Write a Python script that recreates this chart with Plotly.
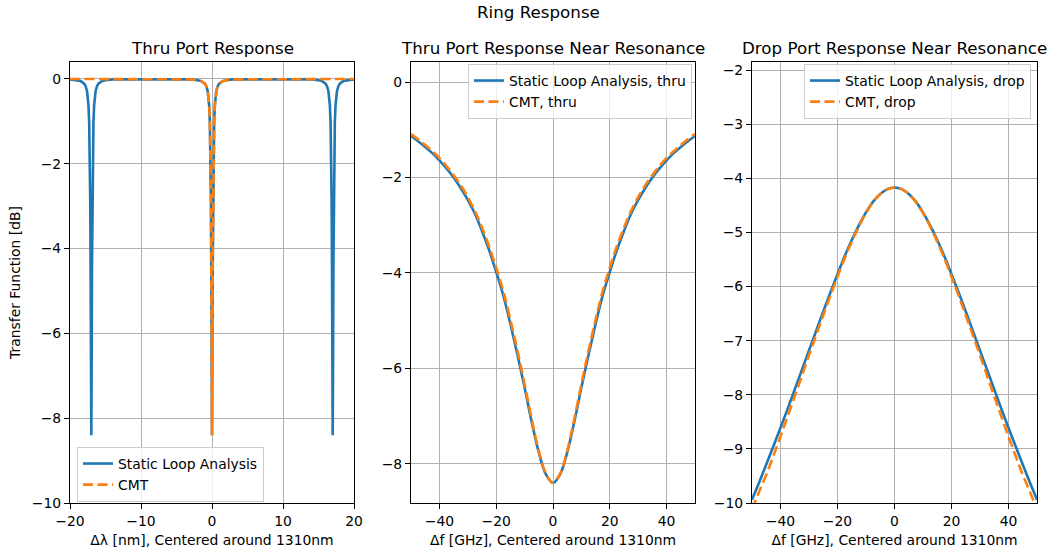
import plotly.graph_objects as go

# ---------------- data ----------------
# Panel 1: thru port over wavelength (nm)
wl_static = [-20.0, -18.5, -18.0, -17.8, -17.6, -17.4, -17.3, -17.2, -17.15, -17.1, -17.05, -17.0,
             -16.95, -16.9, -16.85, -16.8, -16.7, -16.6, -16.4, -16.2, -16.0, -15.5, -15.0, -14.0,
             -8.5, -3.0, -2.0, -1.5, -1.0, -0.8, -0.6, -0.4, -0.3, -0.2, -0.15, -0.1, -0.05, 0.0,
             0.05, 0.1, 0.15, 0.2, 0.3, 0.4, 0.6, 0.8, 1.0, 1.5, 2.0, 3.0, 8.5,
             14.0, 15.0, 15.5, 16.0, 16.2, 16.4, 16.6, 16.7, 16.8, 16.85, 16.9, 16.95, 17.0,
             17.05, 17.1, 17.15, 17.2, 17.3, 17.4, 17.6, 17.8, 18.0, 18.5, 20.0]
thru_static_wide = [-0.01, -0.05, -0.11, -0.17, -0.29, -0.62, -1.03, -1.96, -2.89, -4.43, -6.73, -8.40,
                    -6.73, -4.43, -2.89, -1.96, -1.03, -0.62, -0.29, -0.17, -0.11, -0.05, -0.03, -0.01,
                    -0.003, -0.01, -0.03, -0.05, -0.11, -0.17, -0.29, -0.62, -1.03, -1.96, -2.89, -4.43, -6.73, -8.40,
                    -6.73, -4.43, -2.89, -1.96, -1.03, -0.62, -0.29, -0.17, -0.11, -0.05, -0.03, -0.01, -0.003,
                    -0.01, -0.03, -0.05, -0.11, -0.17, -0.29, -0.62, -1.03, -1.96, -2.89, -4.43, -6.73, -8.40,
                    -6.73, -4.43, -2.89, -1.96, -1.03, -0.62, -0.29, -0.17, -0.11, -0.05, -0.01]

wl_cmt = [-20.0, -3.0, -2.0, -1.5, -1.0, -0.8, -0.6, -0.4, -0.3, -0.2, -0.15, -0.1, -0.05, 0.0,
          0.05, 0.1, 0.15, 0.2, 0.3, 0.4, 0.6, 0.8, 1.0, 1.5, 2.0, 3.0, 20.0]
thru_cmt_wide = [0.0, -0.01, -0.03, -0.05, -0.11, -0.17, -0.29, -0.61, -1.01, -1.93, -2.86, -4.40, -6.71, -8.40,
                 -6.71, -4.40, -2.86, -1.93, -1.01, -0.61, -0.29, -0.17, -0.11, -0.05, -0.03, -0.01, 0.0]

# Panels 2 and 3: frequency detuning (GHz)
df_ghz = [-50.0, -47.5, -45.0, -42.5, -40.0, -37.5, -35.0, -32.5, -30.0, -27.5, -25.0, -22.5, -20.0,
          -17.5, -15.0, -12.5, -10.0, -7.5, -5.0, -2.5, 0.0, 2.5, 5.0, 7.5, 10.0, 12.5, 15.0, 17.5,
          20.0, 22.5, 25.0, 27.5, 30.0, 32.5, 35.0, 37.5, 40.0, 42.5, 45.0, 47.5, 50.0]

thru_static = [-1.13, -1.24, -1.36, -1.49, -1.64, -1.81, -2.00, -2.22, -2.47, -2.76, -3.12, -3.52, -3.98,
               -4.47, -5.07, -5.72, -6.40, -7.12, -7.76, -8.22, -8.40, -8.22, -7.76, -7.12, -6.40, -5.72,
               -5.07, -4.47, -3.98, -3.52, -3.12, -2.76, -2.47, -2.22, -2.00, -1.81, -1.64, -1.49, -1.36,
               -1.24, -1.13]
thru_cmt = [-1.09, -1.20, -1.32, -1.45, -1.59, -1.76, -1.95, -2.16, -2.41, -2.70, -3.05, -3.44, -3.89,
            -4.38, -4.98, -5.63, -6.33, -7.06, -7.73, -8.21, -8.40, -8.21, -7.73, -7.06, -6.33, -5.63,
            -4.98, -4.38, -3.89, -3.44, -3.05, -2.70, -2.41, -2.16, -1.95, -1.76, -1.59, -1.45, -1.32,
            -1.20, -1.09]

drop_static = [-9.94, -9.62, -9.29, -8.95, -8.61, -8.26, -7.90, -7.54, -7.18, -6.82, -6.46, -6.11, -5.77,
               -5.44, -5.14, -4.87, -4.63, -4.43, -4.29, -4.20, -4.17, -4.20, -4.29, -4.43, -4.63, -4.87,
               -5.14, -5.44, -5.77, -6.11, -6.46, -6.82, -7.18, -7.54, -7.90, -8.26, -8.61, -8.95, -9.29,
               -9.62, -9.94]
drop_cmt = [-10.12, -9.79, -9.48, -9.13, -8.77, -8.40, -8.03, -7.65, -7.27, -6.90, -6.53, -6.17, -5.82,
            -5.48, -5.17, -4.89, -4.64, -4.44, -4.29, -4.20, -4.17, -4.20, -4.29, -4.44, -4.64, -4.89,
            -5.17, -5.48, -5.82, -6.17, -6.53, -6.90, -7.27, -7.65, -8.03, -8.40, -8.77, -9.13, -9.48,
            -9.79, -10.12]

# ---------------- styling ----------------
W, H = 1050, 554
BLUE = "#1f77b4"
ORANGE = "#ff7f0e"
FONT = "DejaVu Sans"
FS = 13.9
LW = 2.6
DASH = "10px,4.5px"

def px_x(a, b):
    return [a / W, b / W]

ydom = [(H - 503) / H, (H - 62) / H]

fig = go.Figure()

# Panel 1
fig.add_trace(go.Scatter(x=wl_static, y=thru_static_wide, mode="lines", name="Static Loop Analysis",
                         line=dict(color=BLUE, width=LW), xaxis="x", yaxis="y", legend="legend"))
fig.add_trace(go.Scatter(x=wl_cmt, y=thru_cmt_wide, mode="lines", name="CMT",
                         line=dict(color=ORANGE, width=LW, dash=DASH), xaxis="x", yaxis="y", legend="legend"))
# Panel 2
fig.add_trace(go.Scatter(x=df_ghz, y=thru_static, mode="lines", name="Static Loop Analysis, thru",
                         line=dict(color=BLUE, width=LW, shape="spline"), xaxis="x2", yaxis="y2", legend="legend2"))
fig.add_trace(go.Scatter(x=df_ghz, y=thru_cmt, mode="lines", name="CMT, thru",
                         line=dict(color=ORANGE, width=LW, dash=DASH, shape="spline"), xaxis="x2", yaxis="y2", legend="legend2"))
# Panel 3
fig.add_trace(go.Scatter(x=df_ghz, y=drop_static, mode="lines", name="Static Loop Analysis, drop",
                         line=dict(color=BLUE, width=LW, shape="spline"), xaxis="x3", yaxis="y3", legend="legend3"))
fig.add_trace(go.Scatter(x=df_ghz, y=drop_cmt, mode="lines", name="CMT, drop",
                         line=dict(color=ORANGE, width=LW, dash=DASH, shape="spline"), xaxis="x3", yaxis="y3", legend="legend3"))

axis_common = dict(showline=True, linecolor="black", linewidth=1.1, mirror=True,
                   ticks="outside", ticklen=5, tickwidth=1.1, tickcolor="black",
                   showgrid=True, gridcolor="#b0b0b0", gridwidth=1.1, zeroline=False,
                   tickfont=dict(family=FONT, size=FS, color="black"), automargin=False)

xlabel_nm = "Δλ [nm], Centered around 1310nm"
xlabel_f = "Δf [GHz], Centered around 1310nm"

legend_style = dict(bgcolor="rgba(255,255,255,0.8)", bordercolor="#cccccc", borderwidth=1,
                    font=dict(family=FONT, size=FS, color="black"), tracegroupgap=0)

fig.update_layout(
    width=W, height=H,
    margin=dict(l=0, r=0, t=0, b=0),
    paper_bgcolor="white", plot_bgcolor="white",
    font=dict(family=FONT, size=FS, color="black"),
    xaxis=dict(domain=px_x(70, 354), range=[-20, 20], tickvals=[-20, -10, 0, 10, 20], anchor="y",
               title=dict(text=xlabel_nm, standoff=7, font=dict(size=FS)), **axis_common),
    yaxis=dict(domain=ydom, range=[-10, 0.4], tickvals=[0, -2, -4, -6, -8, -10], anchor="x",
               title=dict(text="Transfer Function [dB]", standoff=7, font=dict(size=FS)), **axis_common),
    xaxis2=dict(domain=px_x(411, 695), range=[-50, 50], tickvals=[-40, -20, 0, 20, 40], anchor="y2",
                title=dict(text=xlabel_f, standoff=7, font=dict(size=FS)), **axis_common),
    yaxis2=dict(domain=ydom, range=[-8.82, 0.42], tickvals=[0, -2, -4, -6, -8], anchor="x2", **axis_common),
    xaxis3=dict(domain=px_x(752, 1037), range=[-50, 50], tickvals=[-40, -20, 0, 20, 40], anchor="y3",
                title=dict(text=xlabel_f, standoff=7, font=dict(size=FS)), **axis_common),
    yaxis3=dict(domain=ydom, range=[-10, -1.85], tickvals=[-2, -3, -4, -5, -6, -7, -8, -9, -10], anchor="x3",
                **axis_common),
    legend=dict(x=77 / W, y=(H - 447) / H, xanchor="left", yanchor="top", **legend_style),
    legend2=dict(x=692 / W, y=(H - 64) / H, xanchor="right", yanchor="top", **legend_style),
    legend3=dict(x=1031 / W, y=(H - 64) / H, xanchor="right", yanchor="top", **legend_style),
    annotations=[
        dict(text="Ring Response", x=538 / W, y=(H - 12) / H, xref="paper", yref="paper",
             xanchor="center", yanchor="middle", showarrow=False, font=dict(size=16.7)),
        dict(text="Thru Port Response", x=(70 + 354) / 2 / W, y=(H - 48) / H, xref="paper", yref="paper",
             xanchor="center", yanchor="middle", showarrow=False, font=dict(size=16.7)),
        dict(text="Thru Port Response Near Resonance", x=(411 + 695) / 2 / W, y=(H - 48) / H,
             xref="paper", yref="paper", xanchor="center", yanchor="middle", showarrow=False,
             font=dict(size=16.7)),
        dict(text="Drop Port Response Near Resonance", x=(752 + 1037) / 2 / W, y=(H - 48) / H,
             xref="paper", yref="paper", xanchor="center", yanchor="middle", showarrow=False,
             font=dict(size=16.7)),
    ],
)

fig.write_html("out.html")
